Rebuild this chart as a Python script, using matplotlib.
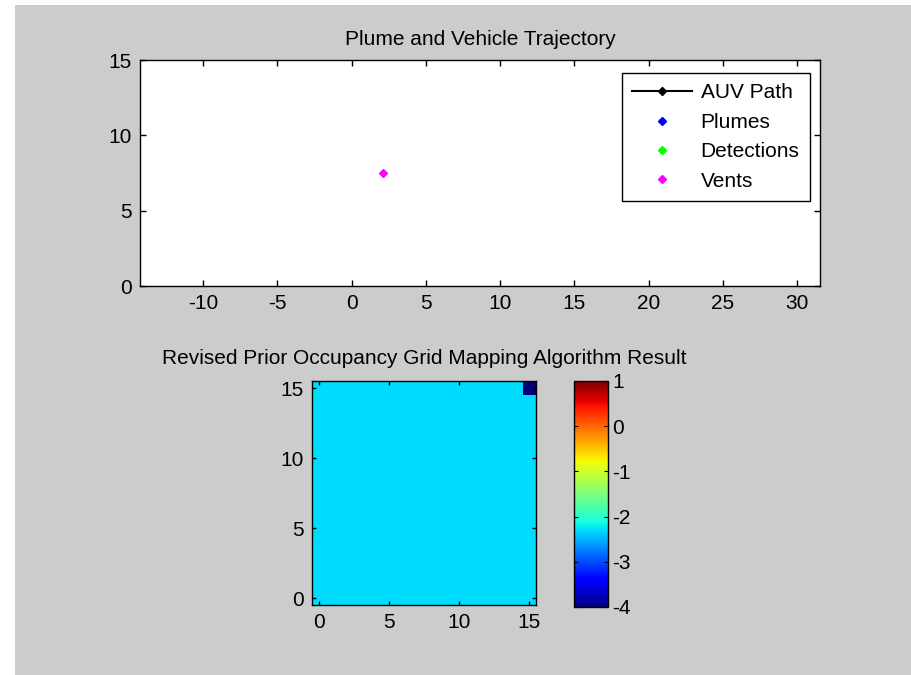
import numpy as np
import matplotlib
matplotlib.use("Agg")
import matplotlib.pyplot as plt
from matplotlib.patches import Rectangle

# --- Data ---
auv_x, auv_y = [], []
plume_x, plume_y = [], []
detect_x, detect_y = [], []
vent_x, vent_y = [2.1], [7.5]

grid_size = 16
prior_value = -2.3           # revised prior log-odds (cyan)
occupied_cells = [(15, 15)]  # (row, col) cells at the minimum
occupied_value = -4.0
clim = (-4, 1)

W, H = 912, 675
FS = 15
plt.rcParams["font.family"] = ["Liberation Sans", "DejaVu Sans"]
plt.rcParams["font.size"] = FS
plt.rcParams["axes.unicode_minus"] = False

def px_axes(fig, x0, y0, x1, y1):
    return fig.add_axes([x0 / W, (H - y1) / H, (x1 - x0) / W, (y1 - y0) / H])

def style(ax):
    ax.tick_params(direction="in", top=True, right=True, length=4, width=1,
                   labelsize=FS, pad=6)
    for s in ax.spines.values():
        s.set_linewidth(1)

fig = plt.figure(figsize=(W / 100, H / 100), dpi=100, facecolor="white")
# grey figure area (white strip at left and top)
fig.patches.append(Rectangle((15 / W, 0), 1, (H - 5) / H, transform=fig.transFigure,
                             facecolor="#cccccc", edgecolor="none", zorder=-10))

# --- Top: trajectory ---
ax1 = px_axes(fig, 140, 60, 820, 286)
ax1.plot(auv_x, auv_y, "k-", marker="D", markersize=4, label="AUV Path")
ax1.plot(plume_x, plume_y, "D", color="blue", markersize=4, linestyle="none", label="Plumes")
ax1.plot(detect_x, detect_y, "D", color="#00ff00", markersize=4, linestyle="none", label="Detections")
ax1.plot(vent_x, vent_y, "D", color="magenta", markersize=4, linestyle="none", label="Vents")
ax1.set_xlim(-14.25, 31.55)
ax1.set_ylim(0, 15)
ax1.set_xticks(range(-10, 31, 5))
ax1.set_yticks([0, 5, 10, 15])
style(ax1)
ax1.set_title("Plume and Vehicle Trajectory", fontsize=FS, pad=11)
leg = ax1.legend(loc="upper right", bbox_to_anchor=(810 / W, (H - 73) / H),
                 bbox_transform=fig.transFigure, borderaxespad=0,
                 fancybox=False, edgecolor="black", framealpha=1,
                 fontsize=FS, handlelength=2.9, labelspacing=0.5,
                 handletextpad=0.4, borderpad=0.5)
leg.get_frame().set_linewidth(1)

# --- Bottom: occupancy grid ---
grid = np.full((grid_size, grid_size), prior_value)
for r, c in occupied_cells:
    grid[r, c] = occupied_value

ax2 = px_axes(fig, 312, 381, 536, 605)
im = ax2.imshow(grid, cmap="jet", vmin=clim[0], vmax=clim[1], origin="lower",
                interpolation="nearest", aspect="auto")
ax2.set_xticks([0, 5, 10, 15])
ax2.set_yticks([0, 5, 10, 15])
style(ax2)
ax2.tick_params(length=3)
ax2.set_title("Revised Prior Occupancy Grid Mapping Algorithm Result", fontsize=FS, pad=12)

cax = px_axes(fig, 574, 381, 608, 607)
cb = fig.colorbar(im, cax=cax, ticks=range(-4, 2))
cax.tick_params(direction="in", left=True, right=True, length=3, labelsize=FS, pad=3)
cb.outline.set_linewidth(1)

fig.savefig("out.png", dpi=100, facecolor=fig.get_facecolor())
